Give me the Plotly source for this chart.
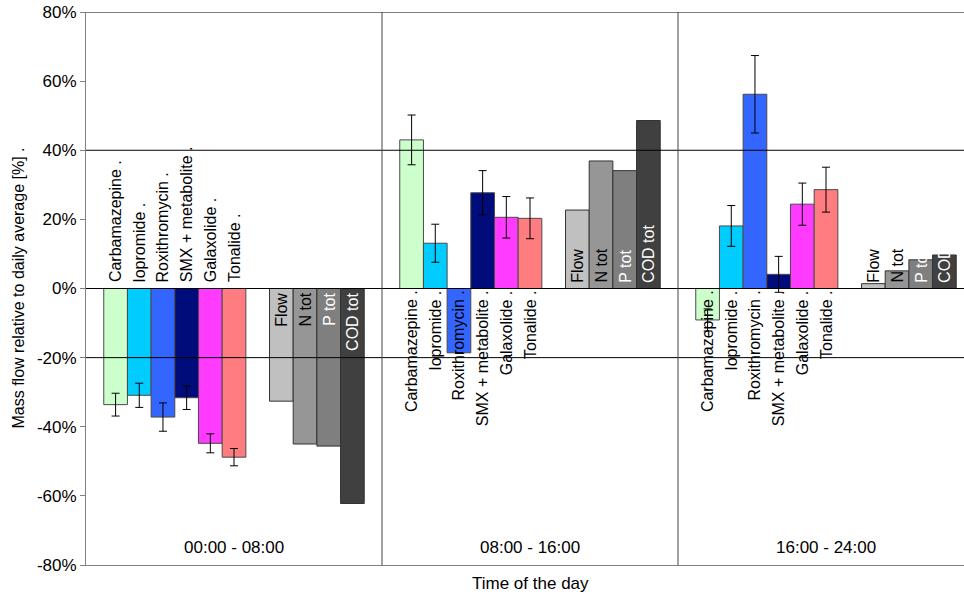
import plotly.graph_objects as go

# ---- data ----
periods = ["00:00 - 08:00", "08:00 - 16:00", "16:00 - 24:00"]
compounds = ["Carbamazepine", "Iopromide", "Roxithromycin", "SMX + metabolite", "Galaxolide", "Tonalide"]
aggregates = ["Flow", "N tot", "P tot", "COD tot"]

carbamazepine = [-33.6, 43.0, -9.1]
iopromide = [-30.9, 13.1, 18.1]
roxithromycin = [-37.2, -18.6, 56.2]
smx_metabolite = [-31.6, 27.7, 4.1]
galaxolide = [-44.8, 20.6, 24.4]
tonalide = [-48.8, 20.3, 28.6]

carbamazepine_err = [3.3, 7.2, 3.2]
iopromide_err = [3.5, 5.5, 5.9]
roxithromycin_err = [4.1, None, 11.2]
smx_metabolite_err = [3.4, 6.4, 5.2]
galaxolide_err = [2.75, 6.0, 6.1]
tonalide_err = [2.5, 5.9, 6.5]

flow = [-32.6, 22.7, 1.4]
n_tot = [-45.0, 36.9, 5.1]
p_tot = [-45.6, 34.1, 8.3]
cod_tot = [-62.2, 48.6, 9.7]

compound_values = [carbamazepine, iopromide, roxithromycin, smx_metabolite, galaxolide, tonalide]
compound_errors = [carbamazepine_err, iopromide_err, roxithromycin_err, smx_metabolite_err, galaxolide_err, tonalide_err]
aggregate_values = [flow, n_tot, p_tot, cod_tot]

y_ticks = [-80, -60, -40, -20, 0, 20, 40, 60, 80]
y_ticktext = ["-80%", "-60%", "-40%", "-20%", "0%", "20%", "40%", "60%", "80%"]

# ---- styles ----
compound_colors = ["#CCFFCC", "#00CCFF", "#3366FF", "#000C7A", "#FF3BFF", "#FF7C80"]
aggregate_colors = ["#C0C0C0", "#969696", "#7F7F7F", "#404040"]
aggregate_text_colors = ["black", "black", "white", "white"]
FONT = "Liberation Sans, Arial, sans-serif"
GROUP = 12.5
MARGIN = 0.75


def xpos(group, slot):
    return group * GROUP + MARGIN + slot + 0.5


fig = go.Figure()
annotations = []

for i, name in enumerate(compounds):
    xs = [xpos(g, i) for g in range(3)]
    fig.add_trace(go.Bar(
        x=xs, y=compound_values[i], width=1, name=name,
        marker=dict(color=compound_colors[i], line=dict(color="#4a4a4a", width=1)),
        error_y=dict(type="data", array=compound_errors[i], color="black", thickness=1, width=4),
        showlegend=False,
    ))
    for g in range(3):
        above = (g == 0)
        annotations.append(dict(
            x=xs[g], y=0, xref="x", yref="y", text=name + " .", showarrow=False,
            textangle=-90, xanchor="center", yanchor="bottom" if above else "top",
            yshift=5 if above else -1, borderpad=0,
            font=dict(family=FONT, size=16, color="black"),
        ))

for j, name in enumerate(aggregates):
    xs = [xpos(g, 7 + j) for g in range(3)]
    fig.add_trace(go.Bar(
        x=xs, y=aggregate_values[j], width=1, name=name,
        marker=dict(color=aggregate_colors[j], line=dict(color="#333333", width=1)),
        showlegend=False,
    ))
    for g in range(3):
        inside_down = (g == 0)
        annotations.append(dict(
            x=xs[g], y=0, xref="x", yref="y", text=name, showarrow=False,
            textangle=-90, xanchor="center", yanchor="top" if inside_down else "bottom",
            yshift=-3 if inside_down else 5, borderpad=0,
            font=dict(family=FONT, size=16, color=aggregate_text_colors[j]),
        ))

for g, p in enumerate(periods):
    annotations.append(dict(
        x=(g + 0.5) * GROUP, y=0, xref="x", yref="paper", text=p, showarrow=False,
        yanchor="middle", yshift=18, font=dict(family=FONT, size=17, color="black"),
    ))

annotations.append(dict(
    x=1.5 * GROUP, y=0, xref="x", yref="paper", text="Time of the day", showarrow=False,
    yanchor="middle", yshift=-18, font=dict(family=FONT, size=17, color="black"),
))
annotations.append(dict(
    x=0, y=0.5, xref="paper", yref="paper", text="Mass flow relative to daily average [%] .",
    showarrow=False, textangle=-90, xanchor="center", yanchor="middle", xshift=-68,
    font=dict(family=FONT, size=16, color="black"),
))

shapes = []
for yv in [80, 40, 0, -20]:
    shapes.append(dict(type="line", xref="paper", yref="y", x0=0, x1=1, y0=yv, y1=yv,
                       line=dict(color="black", width=1), layer="above"))
for xv in [GROUP, 2 * GROUP]:
    shapes.append(dict(type="line", xref="x", yref="y", x0=xv, x1=xv, y0=-80, y1=80,
                       line=dict(color="#444444", width=1), layer="above"))

x_max = 878 * 37.5 / 888

fig.update_layout(
    width=964, height=599,
    margin=dict(l=86, r=0, t=12, b=34),
    paper_bgcolor="white", plot_bgcolor="white",
    barmode="overlay",
    font=dict(family=FONT, size=16, color="black"),
    annotations=annotations,
    shapes=shapes,
    xaxis=dict(range=[0, x_max], showticklabels=False, ticks="", showgrid=False,
               zeroline=False, showline=True, linecolor="#808080", linewidth=1),
    yaxis=dict(range=[-80, 80], tickvals=y_ticks, ticktext=y_ticktext, ticks="outside",
               ticklen=5, tickcolor="#808080", showgrid=False, zeroline=False,
               showline=True, linecolor="#808080", linewidth=1,
               tickfont=dict(family=FONT, size=17, color="black")),
)

fig.write_html("out.html")
